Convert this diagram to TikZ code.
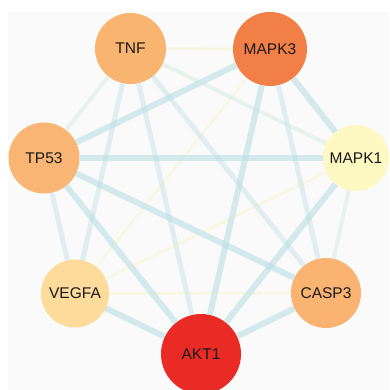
\documentclass[tikz,border=0pt]{standalone}
\usepackage{fontspec}
\setmainfont{Liberation Sans}
\usetikzlibrary{positioning}

\definecolor{edgeblue}{RGB}{187,222,228}
\definecolor{edgegreen}{RGB}{200,228,215}
\definecolor{edgeyellow}{RGB}{245,245,185}
\definecolor{bggray}{RGB}{250,250,250}

\begin{document}
\begin{tikzpicture}[
	x=1pt, y=-1pt,
	gene/.style={
		circle,
		inner sep=0pt,
		font=\fontsize{15.5}{15.5}\selectfont,
		text=black!90
	},
	strong/.style={
		draw=edgeblue,
		line width=6pt,
		draw opacity=0.6
	},
	medium/.style={
		draw=edgeblue,
		line width=5pt,
		draw opacity=0.4
	},
	weak/.style={
		draw=edgegreen,
		line width=4pt,
		draw opacity=0.35
	},
	faint/.style={
		draw=edgeyellow,
		line width=2.5pt,
		draw opacity=0.4
	}
	]
	\useasboundingbox (0,0) rectangle (389,390);
	\fill[bggray] (8,12) rectangle (389,390);

	\node[gene, fill={rgb,255:red,249;green,180;blue,112}, minimum size=71pt] (TNF) at (130.5,48.5) {TNF};
	\node[gene, fill={rgb,255:red,241;green,127;blue,70}, minimum size=74pt] (MAPK3) at (270,49) {MAPK3};
	\node[gene, fill={rgb,255:red,254;green,248;blue,195}, minimum size=66pt] (MAPK1) at (356,158) {MAPK1};
	\node[gene, fill={rgb,255:red,249;green,181;blue,115}, minimum size=71pt] (TP53) at (44,158) {TP53};
	\node[gene, fill={rgb,255:red,253;green,219;blue,155}, minimum size=68pt] (VEGFA) at (75,293.5) {VEGFA};
	\node[gene, fill={rgb,255:red,250;green,179;blue,112}, minimum size=70pt] (CASP3) at (326,293) {CASP3};
	\node[gene, fill={rgb,255:red,233;green,42;blue,37}, minimum size=80pt] (AKT1) at (201,354) {AKT1};

	% interactions, weakest first
	\foreach \a/\b in {TNF/MAPK3, MAPK3/VEGFA, MAPK1/VEGFA, VEGFA/CASP3}{
		\draw[faint] (\a) -- (\b);
	}
	\foreach \a/\b in {TNF/TP53, TNF/MAPK1, MAPK1/CASP3}{
		\draw[weak] (\a) -- (\b);
	}
	\foreach \a/\b in {TNF/VEGFA, TNF/AKT1, TNF/CASP3, MAPK3/CASP3, TP53/VEGFA}{
		\draw[medium] (\a) -- (\b);
	}
	\foreach \a/\b in {MAPK3/TP53, MAPK3/MAPK1, TP53/MAPK1, TP53/AKT1, TP53/CASP3, MAPK1/AKT1, MAPK3/AKT1, VEGFA/AKT1, CASP3/AKT1}{
		\draw[strong] (\a) -- (\b);
	}
\end{tikzpicture}
\end{document}
